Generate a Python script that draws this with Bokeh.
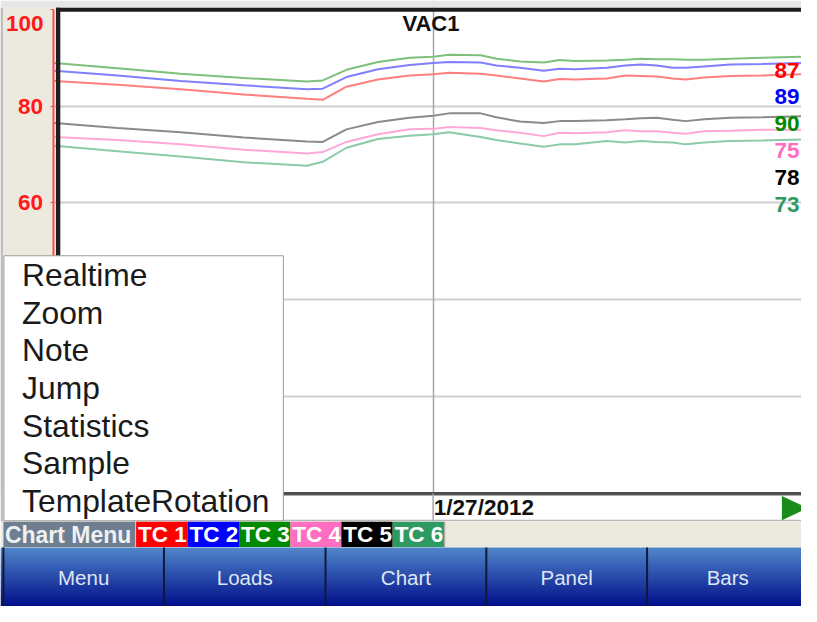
import pandas as pd
from bokeh.plotting import figure
from bokeh.models import (Range1d, LinearAxis, FixedTicker, Grid, BoxAnnotation,
                          Label, PolyAnnotation)
from bokeh.embed import file_html
from bokeh.resources import INLINE

# ---------------- data ----------------
times = ["2012-01-26 12:00", "2012-01-26 14:00", "2012-01-26 16:00", "2012-01-26 18:00",
         "2012-01-26 20:00", "2012-01-26 20:30", "2012-01-26 21:15", "2012-01-26 22:15",
         "2012-01-26 23:15", "2012-01-27 00:00", "2012-01-27 00:30", "2012-01-27 01:30",
         "2012-01-27 02:00", "2012-01-27 02:45", "2012-01-27 03:30", "2012-01-27 04:00",
         "2012-01-27 04:30", "2012-01-27 05:30", "2012-01-27 06:05", "2012-01-27 06:35",
         "2012-01-27 07:05", "2012-01-27 07:35", "2012-01-27 08:00", "2012-01-27 08:35",
         "2012-01-27 09:25", "2012-01-27 10:25", "2012-01-27 11:40"]

tc1 = [85.2, 84.4, 83.5, 82.4, 81.5, 81.3, 84.0, 85.5, 86.3, 86.6, 86.9, 86.7, 86.3, 85.7,
       85.1, 85.6, 85.5, 85.7, 86.3, 86.2, 86.1, 85.7, 85.5, 85.9, 86.2, 86.3, 86.6]
tc2 = [87.3, 86.3, 85.2, 84.3, 83.5, 83.6, 86.0, 87.6, 88.5, 88.9, 89.1, 89.0, 88.4, 87.9,
       87.3, 87.7, 87.6, 87.9, 88.4, 88.6, 88.4, 87.9, 87.9, 88.2, 88.6, 88.7, 88.9]
tc3 = [88.9, 87.8, 86.7, 85.8, 85.1, 85.3, 87.5, 89.1, 90.0, 90.2, 90.6, 90.5, 89.8, 89.2,
       89.0, 89.5, 89.3, 89.4, 89.6, 89.8, 89.7, 89.7, 89.6, 89.6, 89.8, 90.0, 90.2]
tc4 = [73.6, 73.0, 72.1, 71.0, 70.2, 70.5, 72.6, 74.2, 75.2, 75.3, 75.7, 75.5, 75.0, 74.5,
       73.8, 74.5, 74.4, 74.6, 75.0, 74.8, 74.8, 74.5, 74.3, 74.8, 74.9, 75.1, 75.1]
tc5 = [76.5, 75.5, 74.6, 73.5, 72.7, 72.6, 75.2, 76.7, 77.6, 78.0, 78.5, 78.5, 77.7, 76.8,
       76.5, 76.9, 76.9, 77.1, 77.3, 77.5, 77.6, 77.2, 76.9, 77.3, 77.6, 77.7, 77.9]
tc6 = [71.8, 70.7, 69.6, 68.4, 67.7, 68.5, 71.4, 73.2, 73.9, 74.2, 74.6, 73.6, 73.0, 72.3,
       71.6, 72.1, 72.1, 72.8, 72.5, 72.8, 72.6, 72.5, 72.1, 72.5, 72.8, 72.9, 73.1]

series_names = ["TC 1", "TC 2", "TC 3", "TC 4", "TC 5", "TC 6"]
current_values = ["87", "89", "90", "75", "78", "73"]
y_ticks = [0, 20, 40, 60, 80, 100]
chart_title = "VAC1"
date_tick = "2012-01-27 00:00"
date_label = "1/27/2012"
menu_items = ["Realtime", "Zoom", "Note", "Jump", "Statistics", "Sample", "TemplateRotation"]
button_labels = ["Menu", "Loads", "Chart", "Panel", "Bars"]

# ---------------- styles / layout (reference pixel units) ----------------
series_colors = ["#ff0000", "#0000ff", "#008a00", "#ff6ec0", "#000000", "#2e9a62"]
line_colors = ["#ff7f7f", "#7f7fff", "#7cc07c", "#ffa8d8", "#8a8a8a", "#8ccaa8"]
BEIGE = "#ece9df"
FONT = "Liberation Sans"
FS = 0.977
REF_W, REF_H = 817, 622
CH_L, CH_R, CH_T, CH_B = 55, 817, 9, 506   # chart data area


def fs(px):
    return f"{px * FS:.1f}px"


W, H = 801, 606
p = figure(width=W, height=H, output_backend="svg", toolbar_location=None,
           x_range=Range1d(0, REF_W), y_range=Range1d(REF_H, 0),
           x_axis_type=None, y_axis_type=None, title=None,
           min_border_left=0, min_border_right=0, min_border_top=0, min_border_bottom=0)
p.background_fill_color = "white"
p.border_fill_color = BEIGE
p.outline_line_color = None

t = pd.to_datetime(times)
span = t[-1] - t[0]
t_start = t[0] - span * (CH_L / (CH_R - CH_L))
t_end = t[-1] + span * ((REF_W - CH_R) / (CH_R - CH_L))
per_px = 100.0 / (CH_B - CH_T)
p.extra_x_ranges = {"t": Range1d(t_start, t_end)}
p.extra_y_ranges = {"temp": Range1d(-(REF_H - CH_B) * per_px, 100 + CH_T * per_px)}

# grids
hgrid = Grid(dimension=1, y_range_name="temp", ticker=FixedTicker(ticks=[20, 40, 60, 80]),
             grid_line_color="#cfcfcf", grid_line_width=2)
midnight = pd.Timestamp(date_tick).value // 10**6
vgrid = Grid(dimension=0, x_range_name="t", ticker=FixedTicker(ticks=[midnight]),
             grid_line_color="#a6a6a6", grid_line_width=1.5)
p.add_layout(hgrid)
p.add_layout(vgrid)

# beige axis strip at the left
p.quad(left=0, right=CH_L, top=7.5, bottom=CH_B, fill_color=BEIGE, line_color=None)

# series lines
for vals, col in zip([tc1, tc2, tc3, tc4, tc5, tc6], line_colors):
    p.line(x=t, y=vals, x_range_name="t", y_range_name="temp", line_color=col, line_width=2)

# y axis (temperature), drawn at the chart's left edge
yaxis = LinearAxis(y_range_name="temp", ticker=FixedTicker(ticks=y_ticks),
                   fixed_location=54.5, bounds=(0, 100))
yaxis.major_label_overrides = {100: ""}
yaxis.axis_line_color = "#ff4a4a"
yaxis.axis_line_width = 2
yaxis.major_tick_line_color = "#ff4a4a"
yaxis.major_tick_out = 3
yaxis.major_tick_in = 0
yaxis.minor_tick_line_color = None
yaxis.major_label_standoff = 8
yaxis.major_label_text_color = "#ff1a1a"
yaxis.major_label_text_font = FONT
yaxis.major_label_text_font_style = "bold"
yaxis.major_label_text_font_size = fs(23)
p.add_layout(yaxis, "left")


def box(l, r, top, bottom, fill, line=None, lw=1):
    p.add_layout(BoxAnnotation(left=l, right=r, top=top, bottom=bottom,
                               fill_color=fill, fill_alpha=1,
                               line_color=line, line_width=lw, line_alpha=1))


def label(x, y, text, size, color="#111111", bold=False, align="left"):
    p.add_layout(Label(x=x, y=y, text=text, text_font=FONT, text_font_size=fs(size),
                       text_font_style="bold" if bold else "normal", text_color=color,
                       text_align=align, text_baseline="middle"))


# window chrome: top strip and frame borders
box(0, REF_W, 0, 7.5, "#e6e6e6")
box(0, 2.5, 7.5, 535, "#bdbdbd")
box(57, REF_W, 7.5, 11.5, "#1e1e1e")
box(56.5, 61, 7.5, 506, "#1e1e1e")
box(57, REF_W, 504.5, 507.5, "#4e4e4e")

# chart title and top tick label
label(439, 23.5, chart_title, 22.5, "#111111", bold=True, align="center")
label(44, 23.5, str(y_ticks[-1]), 23, "#ff1a1a", bold=True, align="right")

# current values at right
for i, (txt, col) in enumerate(zip(current_values, series_colors)):
    label(815, 71.5 + i * 27.5, txt, 23, col, bold=True, align="right")

# date row
box(2.5, REF_W, 507.5, 535, BEIGE)
box(288, 830, 508, 533.5, "white", "#a8a8a8", 1)
box(440.5, 442, 506, 534, "#a6a6a6")
label(442, 520.5, date_label, 23, "#111111", bold=True)
p.add_layout(PolyAnnotation(xs=[797, 823, 797], ys=[508.5, 521, 533.5],
                            fill_color="#1a8c1a", fill_alpha=1, line_color=None))

# popup menu
box(3.5, 288.5, 262, 534, "white", "#9c9c9c", 1)
for i, item in enumerate(menu_items):
    label(22, 282 + i * 38.6, item, 32.5, "#1a1a1a")

# legend row
box(0, REF_W, 535, 561.5, BEIGE)
box(3, 137.5, 535, 561, "#6f7f91")
label(4.5, 548.5, "Chart Menu", 23.5, "#eef0f2", bold=True)
edges = [138.3, 190.7, 243.3, 295.7, 347.7, 400, 452.3]
for i, (name, col) in enumerate(zip(series_names, series_colors)):
    box(edges[i], edges[i + 1], 535, 561, col)
    label(edges[i] + 2, 548.5, name, 23, "#ffffff", bold=True)
box(452.3, 453.6, 535, 561, "#a8a8a8")

# button bar with vertical gradient
top_rgb, bot_rgb = (80, 132, 200), (0, 14, 138)
nb = 30
y0, y1 = 561.5, 623
for i in range(nb):
    f = i / (nb - 1)
    rgb = tuple(int(round(a + (b - a) * f)) for a, b in zip(top_rgb, bot_rgb))
    box(0, REF_W, y0 + (y1 - y0) * i / nb, y0 + (y1 - y0) * (i + 1) / nb + 0.6,
        "#%02x%02x%02x" % rgb)
bounds = [3, 166.7, 331.5, 495.5, 659.5, 824]
for b in bounds[:-1]:
    box(b - 1, b + 1, 561.5, 623, "#0e1838")
for i, name in enumerate(button_labels):
    label((bounds[i] + bounds[i + 1]) / 2, 592, name, 21, "#dfe7f2", align="center")

open("out.html", "w").write(file_html(p, INLINE))
